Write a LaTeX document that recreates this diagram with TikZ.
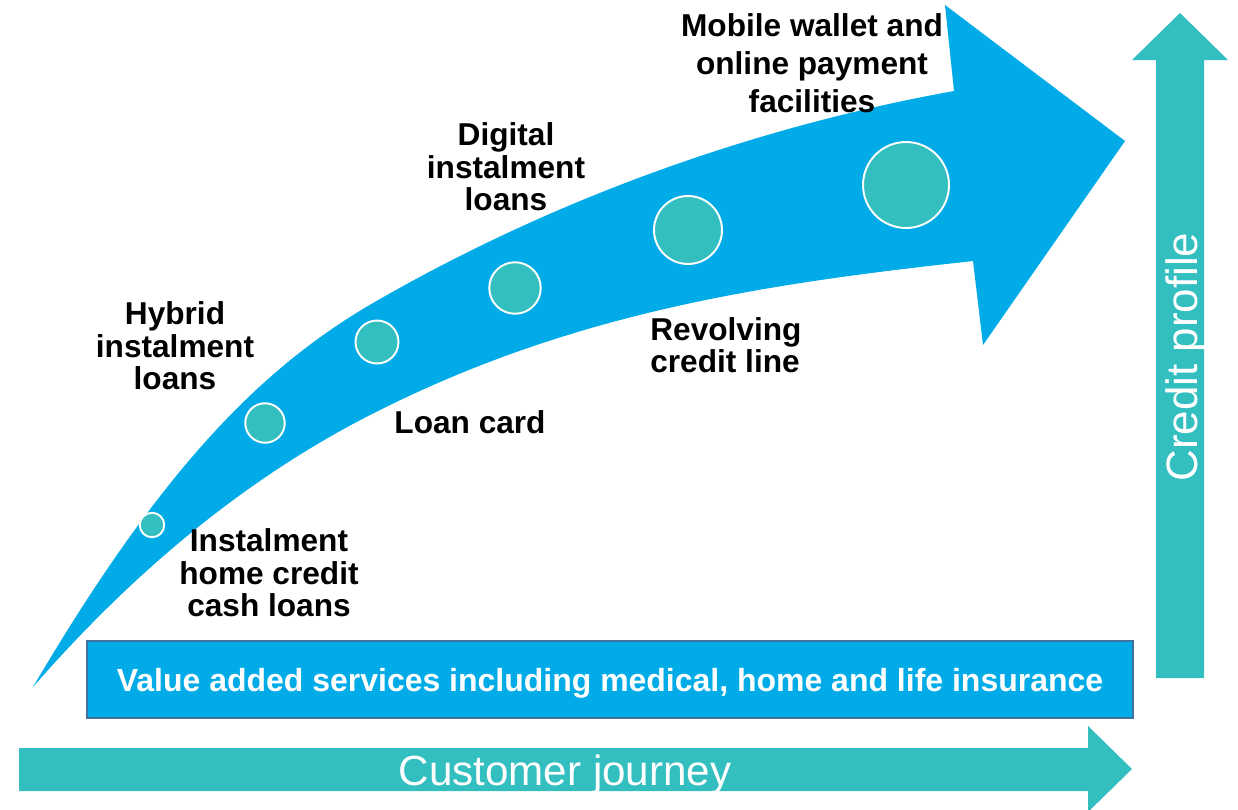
\documentclass[tikz,border=0pt]{standalone}
\usepackage{fontspec}
\setmainfont{Liberation Sans}
\definecolor{arrowblue}{RGB}{0,171,231}
\definecolor{stepteal}{RGB}{51,190,191}
\definecolor{boxedge}{RGB}{65,113,156}

\begin{document}
\begin{tikzpicture}[%
x=0.02cm, y=-0.02cm,
stagetext/.style={font=\fontsize{18}{18.4}\selectfont\bfseries, align=center, inner sep=0pt},
dot/.style={circle, fill=stepteal, draw=white, line width=1.1pt, inner sep=0pt},
]
\useasboundingbox (0,0) rectangle (1238,809);
\clip (0,0) rectangle (1238,809);
%% curved arrow;
\fill [arrowblue] (33,687) .. controls (163,466) and (263,367) .. (373,303)
  .. controls (553,199) and (754,127) .. (954,91)
  -- (945,5) -- (1125,141) -- (983,345) -- (973,261)
  .. controls (773,283) and (580,310) .. (380,410)
  .. controls (265,467) and (148,555) .. (33,687) -- cycle;
%% points;
\foreach \x/\y/\d [count=\i] in {152/525/0.49, 265/423/0.79, 377/342/0.86, 515/288/1.03, 688/230/1.36, 906/185/1.72}
  \node [dot, minimum size=\d cm] (dot\i) at (\x,\y) {};
%% labels;
\node [stagetext, font=\fontsize{18}{21.5}\selectfont\bfseries] (mobile) at (812,63) {Mobile wallet and\\online payment\\facilities};
\node [stagetext] (digital) at (506,167) {Digital\\instalment\\loans};
\node [stagetext] (hybrid) at (175,346) {Hybrid\\instalment\\loans};
\node [stagetext] (loancard) at (470,422) {Loan card};
\node [stagetext, anchor=west, align=left] (revolving) at (650,345) {Revolving\\credit line};
\node [stagetext] (cashloans) at (269,573) {Instalment\\home credit\\cash loans};
%% services box;
\node [fill=arrowblue, draw=boxedge, line width=1.1pt, minimum width=20.92cm, minimum height=1.54cm, text depth=0pt, text=white, font=\fontsize{18.2}{18.6}\selectfont\bfseries] (services) at (610,679.5) {Value added services including medical, home and life insurance};
%% journey arrow;
\fill [stepteal] (19,748) -- (1088,748) -- (1088,726) -- (1132,769) -- (1088,812) -- (1088,791) -- (19,791) -- cycle;
\node [text=white, font=\fontsize{24}{28}\selectfont, anchor=base] (journey) at (565,785) {Customer journey};
%% profile arrow;
\fill [stepteal] (1156,678) -- (1156,60) -- (1132,60) -- (1180,13) -- (1228,60) -- (1204,60) -- (1204,678) -- cycle;
\node [text=white, font=\fontsize{25}{30}\selectfont, anchor=base, rotate=90] (profile) at (1197,357) {Credit profile};
\end{tikzpicture}
\end{document}
